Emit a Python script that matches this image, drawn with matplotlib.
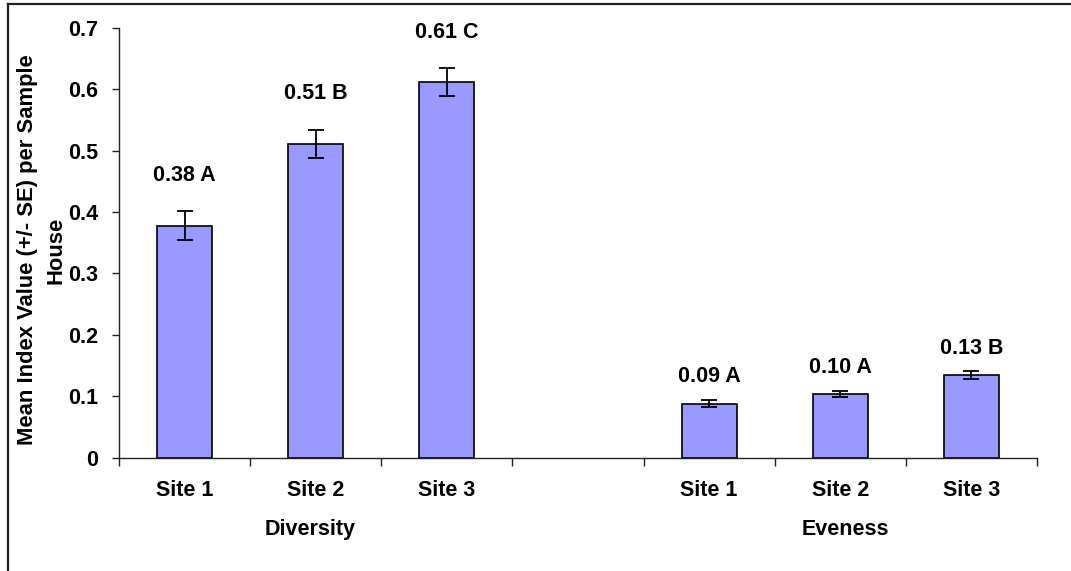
import numpy as np
import matplotlib
matplotlib.use("Agg")
import matplotlib.pyplot as plt
from matplotlib.lines import Line2D

plt.rcParams['font.family'] = ['Liberation Sans', 'DejaVu Sans']
plt.rcParams['font.weight'] = 'bold'

# data
sites = ["Site 1", "Site 2", "Site 3"]
groups = ["Diversity", "Eveness"]
diversity_mean = [0.378, 0.511, 0.612]
diversity_se = [0.023, 0.0235, 0.0225]
eveness_mean = [0.088, 0.104, 0.134]
eveness_se = [0.0065, 0.005, 0.0065]
diversity_labels = ["0.38 A", "0.51 B", "0.61 C"]
eveness_labels = ["0.09 A", "0.10 A", "0.13 B"]

bar_color = "#9999FF"
fs = 15.5
W, H = 1071, 571

fig = plt.figure(figsize=(W / 100, H / 100), dpi=100)
ax = fig.add_axes([119 / W, 1 - 457.5 / H, (1037 - 119) / W, (457.5 - 28) / H])

# slot layout: 3 diversity bars, one empty slot, 3 eveness bars
div_x = np.arange(len(sites))
eve_x = np.arange(len(sites)) + len(sites) + 1

ax.bar(div_x, diversity_mean, width=0.42, color=bar_color, edgecolor="black", linewidth=1.2, zorder=2)
ax.bar(eve_x, eveness_mean, width=0.42, color=bar_color, edgecolor="black", linewidth=1.2, zorder=2)
ax.errorbar(div_x, diversity_mean, yerr=diversity_se, fmt="none", ecolor="black",
            elinewidth=1.3, capsize=5.5, capthick=1.3, zorder=3)
ax.errorbar(eve_x, eveness_mean, yerr=eveness_se, fmt="none", ecolor="black",
            elinewidth=1.3, capsize=5.5, capthick=1.3, zorder=3)

for x, m, s, lab in zip(div_x, diversity_mean, diversity_se, diversity_labels):
    ax.annotate(lab, (x, m + s), xytext=(0, 26), textcoords="offset points",
                ha="center", va="center", fontsize=fs, fontweight="bold")
for x, m, s, lab in zip(eve_x, eveness_mean, eveness_se, eveness_labels):
    ax.annotate(lab, (x, m + s), xytext=(0, 16.5), textcoords="offset points",
                ha="center", va="center", fontsize=fs, fontweight="bold")

n_slots = 2 * len(sites) + 1
ax.set_xlim(-0.5, n_slots - 0.5)
ax.set_ylim(0, 0.7)
ax.set_yticks(np.arange(0, 0.71, 0.1))
ax.set_yticklabels(["0"] + ["%.1f" % v for v in np.arange(0.1, 0.71, 0.1)])

ax.set_xticks(np.concatenate([div_x, eve_x]))
ax.set_xticklabels(sites + sites)
ax.set_xticks(np.arange(-0.5, n_slots, 1.0), minor=True)
ax.tick_params(axis="x", which="major", length=0, pad=16, labelsize=fs)
ax.tick_params(axis="x", which="minor", length=6, width=1, color="#222222", direction="out")
ax.tick_params(axis="y", length=5, width=1, color="#222222", pad=10, labelsize=fs)

for side in ["top", "right"]:
    ax.spines[side].set_visible(False)
for side in ["left", "bottom"]:
    ax.spines[side].set_color("#222222")
    ax.spines[side].set_linewidth(1)

# group labels under the site labels
trans = ax.get_xaxis_transform()
ax.text(div_x[1] - 0.04, -72 / (457.5 - 28), groups[0], transform=trans, ha="center", va="center",
        fontsize=fs, fontweight="bold")
ax.text(eve_x[1] + 0.04, -72 / (457.5 - 28), groups[1], transform=trans, ha="center", va="center",
        fontsize=fs, fontweight="bold")

fig.text(42 / W, 1 - 250 / H, "Mean Index Value (+/- SE) per Sample\nHouse",
         rotation=90, ha="center", va="center", multialignment="center",
         fontsize=15.8, fontweight="bold", linespacing=1.45)

# outer chart border (only left and top edges visible in the crop)
fig.add_artist(Line2D([8 / W, 8 / W], [0, 1 - 4 / H], transform=fig.transFigure, color="#222222", lw=1.6))
fig.add_artist(Line2D([8 / W, 1], [1 - 4 / H, 1 - 4 / H], transform=fig.transFigure, color="#222222", lw=1.6))

fig.savefig("out.png", dpi=100)
